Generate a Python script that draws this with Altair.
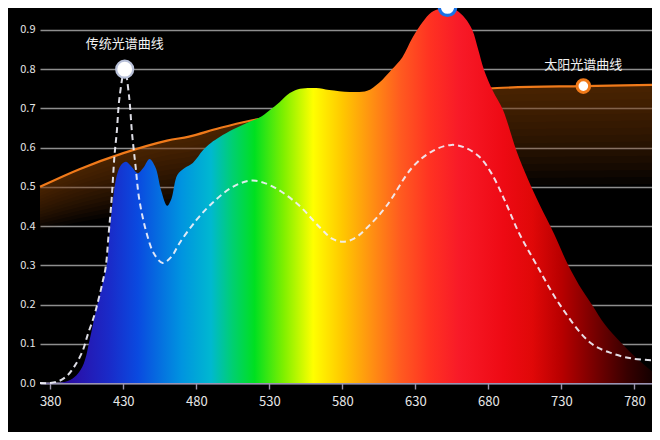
import altair as alt
import pandas as pd

# ---- data ----
spec_nm = [373, 385, 392, 398, 403, 407, 411, 415, 418.6, 421, 423, 426, 429, 432, 436, 440,
           444, 448, 452, 456, 460, 463, 467, 472, 477.6, 484.7, 490, 496, 505, 514.5, 523,
           530, 537, 544, 551, 562, 571, 585, 597, 605, 614, 621, 628, 635, 641, 647, 652,
           658, 664, 669, 673, 677, 683, 690, 699, 707, 715, 725, 734, 742, 751, 760, 771,
           781, 792]
spec_val = [0.0, 0.0, 0.005, 0.02, 0.05, 0.11, 0.18, 0.24, 0.30, 0.40, 0.47, 0.535, 0.558,
            0.564, 0.55, 0.535, 0.55, 0.571, 0.55, 0.49, 0.452, 0.47, 0.53, 0.548, 0.561,
            0.594, 0.612, 0.627, 0.646, 0.663, 0.676, 0.695, 0.716, 0.739, 0.75, 0.752,
            0.747, 0.742, 0.745, 0.765, 0.80, 0.83, 0.88, 0.92, 0.945, 0.955, 0.957, 0.95,
            0.93, 0.90, 0.85, 0.798, 0.745, 0.696, 0.594, 0.52, 0.455, 0.38, 0.305, 0.25,
            0.199, 0.148, 0.102, 0.065, 0.03]

trad_nm = [373, 380, 386, 392, 397, 402, 406, 410, 413, 416, 418, 420, 422, 424, 425.5, 427.5,
           431, 434, 436, 438.5, 441, 446, 451, 457, 463, 468.6, 480, 491, 505, 517.7, 530,
           548.5, 565, 573, 580, 588, 598, 610, 628, 642, 654.7, 664, 674, 682, 691, 701,
           713, 729, 750, 765, 779, 792]
trad_val = [0.0, 0.0, 0.005, 0.02, 0.045, 0.08, 0.127, 0.17, 0.212, 0.26, 0.296, 0.38, 0.467,
            0.58, 0.637, 0.73, 0.80, 0.73, 0.637, 0.55, 0.467, 0.382, 0.33, 0.306, 0.322,
            0.357, 0.415, 0.459, 0.5, 0.516, 0.505, 0.459, 0.395, 0.368, 0.36, 0.368, 0.40,
            0.45, 0.55, 0.592, 0.607, 0.60, 0.576, 0.535, 0.467, 0.382, 0.301, 0.199, 0.102,
            0.075, 0.062, 0.058]

sun_nm = [373, 400, 430, 460, 475, 496, 516, 550, 600, 650, 686, 745, 792]
sun_val = [0.50, 0.545, 0.586, 0.618, 0.628, 0.65, 0.668, 0.69, 0.72, 0.742, 0.752, 0.757, 0.76]

marker_key = ["trad", "peak", "sun"]
marker_nm = [431, 652, 745]
marker_val = [0.80, 0.958, 0.757]
label_key = ["trad", "sun"]
label_text = ["传统光谱曲线", "太阳光谱曲线"]

x_ticks = [380, 430, 480, 530, 580, 630, 680, 730, 780]
y_ticks = [0.0, 0.1, 0.2, 0.3, 0.4, 0.5, 0.6, 0.7, 0.8, 0.9]

# ---- tables ----
spec_df = pd.DataFrame({"nm": spec_nm, "v": spec_val})
trad_df = pd.DataFrame({"nm": trad_nm, "v": trad_val})
sun_df = pd.DataFrame({"nm": sun_nm, "v": sun_val})
mark_df = pd.DataFrame({"key": marker_key, "nm": marker_nm, "v": marker_val})
lab_df = pd.DataFrame({"key": label_key, "text": label_text})
lab_df = lab_df.merge(mark_df, on="key")

X_DOMAIN = [373, 792]
Y_DOMAIN = [0, 0.956]
FONT = "Noto Sans CJK SC"
CURVE = "catmull-rom"

x_enc = alt.X(
    "nm:Q",
    scale=alt.Scale(domain=X_DOMAIN, nice=False, zero=False),
    axis=alt.Axis(values=x_ticks, title=None, grid=False, format="d",
                  labelFontSize=13, labelColor="#e6e6e6", labelFont=FONT,
                  labelPadding=6, tickSize=6, tickColor="#9a94aa", tickWidth=1.4,
                  domainColor="#9a94b4", domainWidth=1.8, labelFlush=False),
)
y_axis = alt.Axis(values=y_ticks, title=None, format=".1f", grid=True,
                  gridColor="#8e8e8e", gridWidth=1.7, domain=False, ticks=False,
                  labelFontSize=11, labelColor="#e6e6e6", labelFont=FONT,
                  labelPadding=5)
y_scale = alt.Scale(domain=Y_DOMAIN, nice=False)

def y_enc(field):
    return alt.Y(field, scale=y_scale, axis=y_axis)

# ---- solar shadow (stacked translucent bands under the orange line) ----
N = 14
shadow_layers = []
for i in range(N):
    frac = 0.55 * (i + 1) / N
    shadow_layers.append(
        alt.Chart(sun_df)
        .transform_calculate(top="datum.v", bot=f"datum.v - {frac} * (datum.v - 0.30)")
        .mark_area(interpolate=CURVE, color="#7a3c14", opacity=0.062)
        .encode(x=x_enc, y=y_enc("top:Q"), y2="bot:Q")
    )

sun_line = alt.Chart(sun_df).mark_line(
    interpolate=CURVE, color="#f07a1a", strokeWidth=2.2
).encode(x=x_enc, y=y_enc("v:Q"))

# ---- rainbow spectrum ----
grad_nm = [373, 395, 420, 440, 470, 490, 505, 520, 540, 560, 580, 600, 620, 640, 660,
           690, 710, 730, 755, 775, 792]
grad_col = ["#1a0a78", "#2a10a8", "#1a2ac8", "#0a4ae0", "#0094e0", "#00b8d0", "#00d070",
            "#00e020", "#80f000", "#ffff00", "#ffc800", "#ff9012", "#ff5a20", "#ff3222",
            "#f81a28", "#ee0a14", "#e00808", "#b80000", "#700000", "#380000", "#140000"]
stops = [{"offset": (n - X_DOMAIN[0]) / (X_DOMAIN[1] - X_DOMAIN[0]), "color": c}
         for n, c in zip(grad_nm, grad_col)]

spectrum = alt.Chart(spec_df).mark_area(
    interpolate=CURVE,
    color={"gradient": "linear", "x1": 0, "x2": 1, "y1": 0, "y2": 0, "stops": stops},
).encode(x=x_enc, y=y_enc("v:Q"))

trad_line = alt.Chart(trad_df).mark_line(
    interpolate=CURVE, color="#f0f0f8", strokeWidth=2, strokeDash=[6, 4], opacity=0.92
).encode(x=x_enc, y=y_enc("v:Q"))

# ---- markers ----
def marker(key, stroke, sw, size):
    return alt.Chart(mark_df).transform_filter(f"datum.key == '{key}'").mark_point(
        shape="circle", filled=False, fill="#ffffff", fillOpacity=1,
        stroke=stroke, strokeWidth=sw, size=size, opacity=1
    ).encode(x=x_enc, y=y_enc("v:Q"))

m_trad = marker("trad", "#b8c0d8", 2.2, 290)
m_peak = marker("peak", "#1a72e8", 3.2, 270)
m_sun = marker("sun", "#f07a1a", 3, 160)

def label(key, dy):
    return alt.Chart(lab_df).transform_filter(f"datum.key == '{key}'").mark_text(
        dy=dy, fontSize=13, font=FONT, color="#f2f2f2", baseline="middle", align="center"
    ).encode(x=x_enc, y=y_enc("v:Q"), text="text:N")

t_trad = label("trad", -25)
t_sun = label("sun", -21)

chart = alt.layer(
    *shadow_layers, sun_line, spectrum, trad_line, m_trad, m_peak, m_sun, t_trad, t_sun
).properties(
    width=612, height=375,
    background="#000000",
    padding={"left": 32, "top": 0, "right": 0, "bottom": 49},
    autosize=alt.AutoSizeParams(type="none"),
).configure_view(stroke=None)

chart.save("out.html", embed_options={"renderer": "svg", "actions": False})
